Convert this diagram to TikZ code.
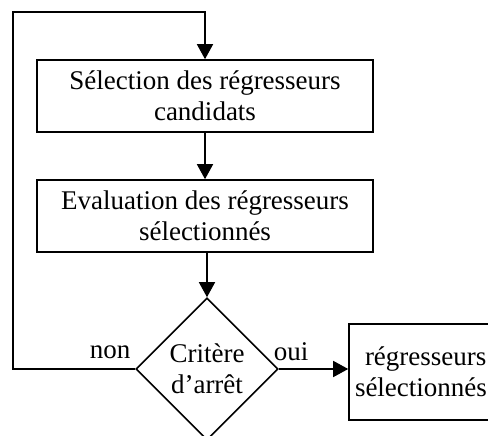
\documentclass[tikz,border=0pt]{standalone}
\usepackage{fontspec}
\setmainfont{Liberation Serif}
\usetikzlibrary{arrows.meta,shapes.geometric}
\begin{document}
\begin{tikzpicture}[x=1pt,y=-1pt,
  every node/.style={font=\fontsize{27}{31}\selectfont},
  line/.style={line width=1.6pt},
  arrow/.style={line, -{Triangle[length=15pt,width=16pt]}},
  procbox/.style={draw, line width=1.6pt, rectangle, align=center, inner sep=0pt},
  decision/.style={draw, line width=1.6pt, diamond, align=center, inner sep=0pt, minimum width=142pt, minimum height=142pt}]
  \useasboundingbox (0,0) rectangle (488,436);

  % process steps
  \node[procbox, minimum width=336pt, minimum height=72pt] (b1) at (205,96) {Sélection des régresseurs\\candidats};
  \node[procbox, minimum width=336pt, minimum height=72pt] (b2) at (205,216) {Evaluation des régresseurs\\sélectionnés};
  \node[decision] (dia) at (207,369) {Critère\\d’arrêt};
  \node[procbox, minimum width=152pt, minimum height=96pt, text width=140pt, align=left] (b3) at (425,372) {\hspace{10pt}régresseurs\\sélectionnés};

  % branch labels
  \node (non) at (110,352) {non};
  \node (oui) at (291,352) {oui};

  % loop-back corners
  \coordinate (lc) at (13,369);
  \coordinate (tc) at (205,12);

  % connectors
  \draw[arrow] (b1.south) -- (b2.north);
  \draw[arrow] (dia.north |- b2.south) -- (dia.north);
  \draw[arrow] (dia.east) -- (dia.east -| b3.west);
  \draw[arrow] (dia.west) -- (lc) |- (tc) -- (b1.north);
\end{tikzpicture}
\end{document}
